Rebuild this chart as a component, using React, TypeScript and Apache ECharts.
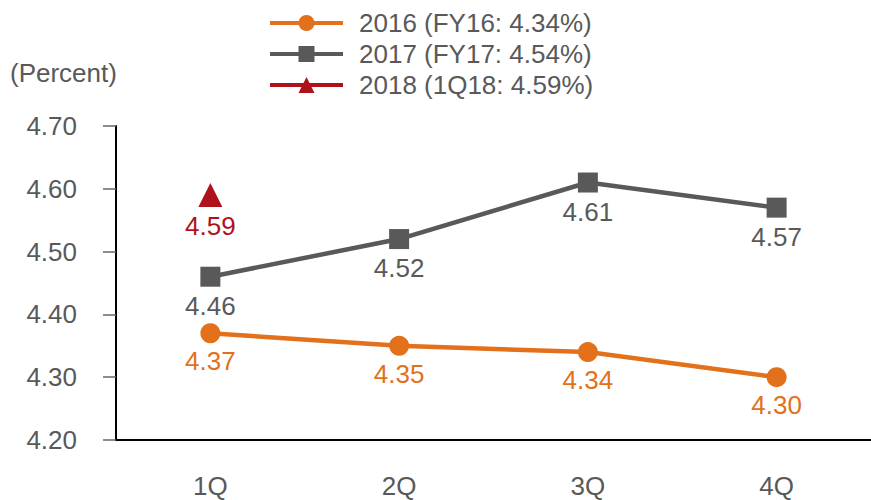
import React, { useEffect, useRef } from "react";
import * as echarts from "echarts";

const categories = ["1Q", "2Q", "3Q", "4Q"];
const s2016 = [4.37, 4.35, 4.34, 4.30];
const s2017 = [4.46, 4.52, 4.61, 4.57];
const s2018 = [4.59, null, null, null];
const names = ["2016 (FY16: 4.34%)", "2017 (FY17: 4.54%)", "2018 (1Q18: 4.59%)"];
const yTicks = { min: 4.2, max: 4.7, interval: 0.1 };

const FONT = "'Liberation Sans', Arial, sans-serif";
const GRAY = "#595959";
const ORANGE = "#E3701A";
const DARK = "#595959";
const RED = "#B0121B";
const FS = 26;

export default function App() {
  const ref = useRef<HTMLDivElement>(null);
  useEffect(() => {
    const chart = echarts.init(ref.current!, null, { renderer: "svg" });
    const label = (color: string, distance: number) => ({
      show: true,
      position: "bottom",
      distance,
      color,
      fontSize: FS,
      fontFamily: FONT,
      formatter: (p: any) => Number(p.value).toFixed(2),
    });
    chart.setOption({
      animation: false,
      textStyle: { fontFamily: FONT },
      legend: {
        orient: "vertical",
        left: 263,
        top: 5,
        itemWidth: 73,
        itemHeight: 20,
        itemGap: 5,
        textStyle: { fontSize: FS, color: GRAY, fontFamily: FONT, padding: [0, 0, 0, 11] },
        data: [
          { name: names[0], lineStyle: { width: 4 } },
          { name: names[1], lineStyle: { width: 4 } },
          { name: names[2], lineStyle: { width: 4 } },
        ],
      },
      graphic: [
        {
          type: "text",
          left: 10,
          top: 60,
          style: { text: "(Percent)", fontSize: FS, fill: GRAY, fontFamily: FONT },
        },
      ],
      grid: { left: 116, top: 126, bottom: 60, width: 764, containLabel: false },
      xAxis: {
        type: "category",
        data: categories,
        boundaryGap: true,
        axisLine: { lineStyle: { color: "#000", width: 2 } },
        axisTick: { alignWithLabel: true, length: 12, lineStyle: { color: "#555", width: 1.5 } },
        axisLabel: { fontSize: FS, color: GRAY, margin: 33, fontFamily: FONT },
      },
      yAxis: {
        type: "value",
        min: yTicks.min,
        max: yTicks.max,
        interval: yTicks.interval,
        splitLine: { show: false },
        axisLine: { show: true, lineStyle: { color: "#000", width: 2 } },
        axisTick: { show: true, length: 13, lineStyle: { color: "#666", width: 1.5 } },
        axisLabel: {
          fontSize: FS,
          color: GRAY,
          margin: 39,
          fontFamily: FONT,
          formatter: (v: number) => v.toFixed(2),
        },
      },
      series: [
        {
          name: names[0],
          type: "line",
          data: s2016,
          symbol: "circle",
          symbolSize: 20,
          lineStyle: { color: ORANGE, width: 4.5 },
          itemStyle: { color: ORANGE },
          label: label(ORANGE, 5),
        },
        {
          name: names[1],
          type: "line",
          data: s2017,
          symbol: "rect",
          symbolSize: 20,
          lineStyle: { color: DARK, width: 4.5 },
          itemStyle: { color: DARK },
          label: label(GRAY, 6),
        },
        {
          name: names[2],
          type: "line",
          data: s2018,
          symbol: "triangle",
          symbolSize: 24,
          lineStyle: { color: RED, width: 4.5 },
          itemStyle: { color: RED },
          label: label(RED, 6),
        },
      ],
    });
    return () => chart.dispose();
  }, []);
  return <div ref={ref} style={{ width: 871, height: 500, position: "absolute", left: 0, top: 0 }} />;
}
